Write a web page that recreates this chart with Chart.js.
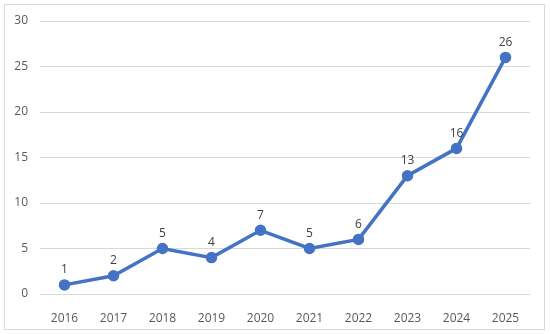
<!DOCTYPE html>
<html>
<head>
<meta charset="utf-8">
<script src="https://cdn.jsdelivr.net/npm/chart.js@4/dist/chart.umd.min.js"></script>
<style>
  html, body { margin: 0; padding: 0; background: #fff; }
  #wrap { width: 550px; height: 334px; position: relative; }
</style>
</head>
<body>
<div id="wrap"><canvas id="chart"></canvas></div>
<script>
// --- données ---
const YEARS  = ['2016', '2017', '2018', '2019', '2020', '2021', '2022', '2023', '2024', '2025'];
const COUNTS = [1, 2, 5, 4, 7, 5, 6, 13, 16, 26];

const LINE_COLOR = '#4472C4';
const TEXT_COLOR = '#595959';
const GRID_COLOR = '#D9D9D9';
const FONT = '"Open Sans", sans-serif';

// cadre gris autour du graphique
const frame = {
  id: 'frame',
  beforeDraw(chart) {
    const ctx = chart.ctx;
    ctx.save();
    ctx.strokeStyle = '#D9D9D9';
    ctx.lineWidth = 1;
    ctx.strokeRect(4.5, 4.5, 540, 325);
    ctx.restore();
  }
};

// étiquettes de valeurs au-dessus des points
const valueLabels = {
  id: 'valueLabels',
  afterDatasetsDraw(chart) {
    const ctx = chart.ctx;
    const meta = chart.getDatasetMeta(0);
    ctx.save();
    ctx.fillStyle = '#404040';
    ctx.font = '12px ' + FONT;
    ctx.textAlign = 'center';
    ctx.textBaseline = 'bottom';
    meta.data.forEach((pt, i) => {
      ctx.fillText(String(COUNTS[i]), pt.x, pt.y - 9);
    });
    ctx.restore();
  }
};

new Chart(document.getElementById('chart'), {
  type: 'line',
  data: {
    labels: YEARS,
    datasets: [{
      data: COUNTS,
      borderColor: LINE_COLOR,
      backgroundColor: LINE_COLOR,
      borderWidth: 3.5,
      pointRadius: 4,
      pointHoverRadius: 4,
      tension: 0,
      fill: false,
    }]
  },
  options: {
    responsive: true,
    maintainAspectRatio: false,
    animation: false,
    layout: { padding: { left: 0, right: 20, top: 21, bottom: 0 } },
    plugins: {
      legend: { display: false },
      tooltip: { enabled: false },
    },
    scales: {
      x: {
        offset: true,
        grid: { display: false },
        border: { display: false },
        ticks: {
          color: TEXT_COLOR,
          font: { family: FONT, size: 12 },
          padding: 9,
          maxRotation: 0,
        },
        afterFit: (s) => { s.height = 40; },
      },
      y: {
        min: 0,
        max: 30,
        grid: { color: GRID_COLOR, drawTicks: false },
        border: { display: false },
        ticks: {
          stepSize: 5,
          color: TEXT_COLOR,
          font: { family: FONT, size: 12 },
          padding: 12,
        },
        afterFit: (s) => { s.width = 40; },
      }
    }
  },
  plugins: [frame, valueLabels]
});
</script>
</body>
</html>
